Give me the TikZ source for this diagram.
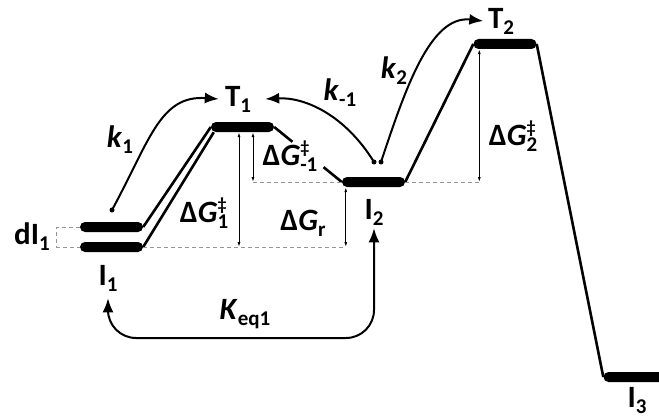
\documentclass[tikz,border=0pt]{standalone}
\usepackage{fontspec}
\setmainfont{Carlito}
\usetikzlibrary{arrows.meta,calc}
\definecolor{dashgray}{RGB}{150,150,150}
\newcommand{\sub}[1]{\raisebox{-6pt}{\fontsize{21}{21}\selectfont #1}}
\newcommand{\supsub}[2]{\rlap{\raisebox{12pt}{\fontsize{18}{18}\selectfont #1}}\raisebox{-6pt}{\fontsize{21}{21}\selectfont #2}}

\begin{document}
\begin{tikzpicture}[x=1pt, y=-1pt, >=Latex,
 every node/.style={font=\fontsize{31}{36}\selectfont\bfseries, inner sep=1pt},
 level/.style={fill=black, rounded corners=5pt, minimum width=63pt, minimum height=10pt, inner sep=0pt},
 profile/.style={line width=2.6pt},
 rate/.style={line width=2pt, -{Latex[length=14pt,width=11pt]}},
 barrier/.style={line width=0.9pt, {Latex[length=5pt,width=3pt]}-{Latex[length=5pt,width=3pt]}},
 guide/.style={dashgray, line width=1pt, dash pattern=on 4pt off 3pt}]
\useasboundingbox (0,0) rectangle (659,420);
% energy levels
\node[level] (dI1) at (111.5,227) {};
\node[level] (I1) at (111.5,247) {};
\node[level] (T1) at (242.5,127) {};
\node[level] (I2) at (373.5,182) {};
\node[level] (T2) at (505,44) {};
\node[level] (I3) at (635,377) {};
% labels
\node (dI1lab) at (32,237) {dI\sub{1}};
\node (I1lab) at (108,278) {I\sub{1}};
\node (T1lab) at (238,99) {T\sub{1}};
\node (I2lab) at (374,212) {I\sub{2}};
\node (T2lab) at (501,21) {T\sub{2}};
\node (I3lab) at (637,401) {I\sub{3}};
\node (k1lab) at (120,140) {\textit{k}\sub{1}};
\node (km1lab) at (340,93) {\textit{k}\sub{-1}};
\node (k2lab) at (394,71) {\textit{k}\sub{2}};
\node (dG1lab) at (204,213) {Δ\textit{G}\supsub{‡}{1}};
\node (dGm1lab) at (290,156) {Δ\textit{G}\supsub{‡}{-1}};
\node (dGrlab) at (303,223) {Δ\textit{G}\sub{r}};
\node (dG2lab) at (513,136) {Δ\textit{G}\supsub{‡}{2}};
\node (Keqlab) at (245,314) {\textit{K}\sub{eq1}};
% profile
\draw[profile] (dI1.east) -- (T1.west);
\draw[profile] (I1.east) -- ([xshift=3pt]T1.south west);
\draw[profile] (T1.east) -- ($(T1.east)!0.27!(I2.west)$);
\draw[profile] ($(T1.east)!0.73!(I2.west)$) -- (I2.west);
\draw[profile] (I2.east) -- (T2.west);
\draw[profile] (T2.east) -- (I3.west);
% barriers
\coordinate (g1t) at ([xshift=-3.5pt]T1.south);
\coordinate (gm1t) at ([xshift=10.5pt]T1.south);
\coordinate (grt) at ([xshift=4pt]I2.south west);
\coordinate (g2t) at ([xshift=6pt]T2.south west);
\draw[guide] (dI1.west) -- ++(-23,0) |- (I1.west);
\draw[guide] (I1.east) -- (grt |- I1);
\draw[guide] (gm1t |- I2) -- (I2.west);
\draw[guide] (I2.east) -- (g2t |- I2);
\draw[barrier] (g1t) -- (g1t |- I1);
\draw[barrier] (gm1t) -- (gm1t |- I2);
\draw[barrier] (grt) -- (grt |- I1);
\draw[barrier] (g2t) -- (g2t |- I2);
% rates
\coordinate (k1s) at (112,210);
\coordinate (km1s) at (374,162);
\coordinate (k2s) at (381,162);
\coordinate (keqlow) at (245,338);
\fill (k1s) circle[radius=2.5] (km1s) circle[radius=2.5] (k2s) circle[radius=2.5];
\draw[rate] (k1s) .. controls (150,140) and (160,95) .. ([xshift=-5pt]T1lab.west);
\draw[rate] (km1s) .. controls (345,115) and (305,97) .. ([xshift=13pt]T1lab.east);
\draw[rate] (k2s) .. controls (405,90) and (430,15) .. ([xshift=-3.5pt]T2lab.west);
\draw[rate, {Latex[length=14pt,width=11pt]}-{Latex[length=14pt,width=11pt]}, rounded corners=28pt]
 ([yshift=-6pt]I1lab.south) |- (keqlow) -| ([yshift=-2pt]I2lab.south);
\end{tikzpicture}
\end{document}
